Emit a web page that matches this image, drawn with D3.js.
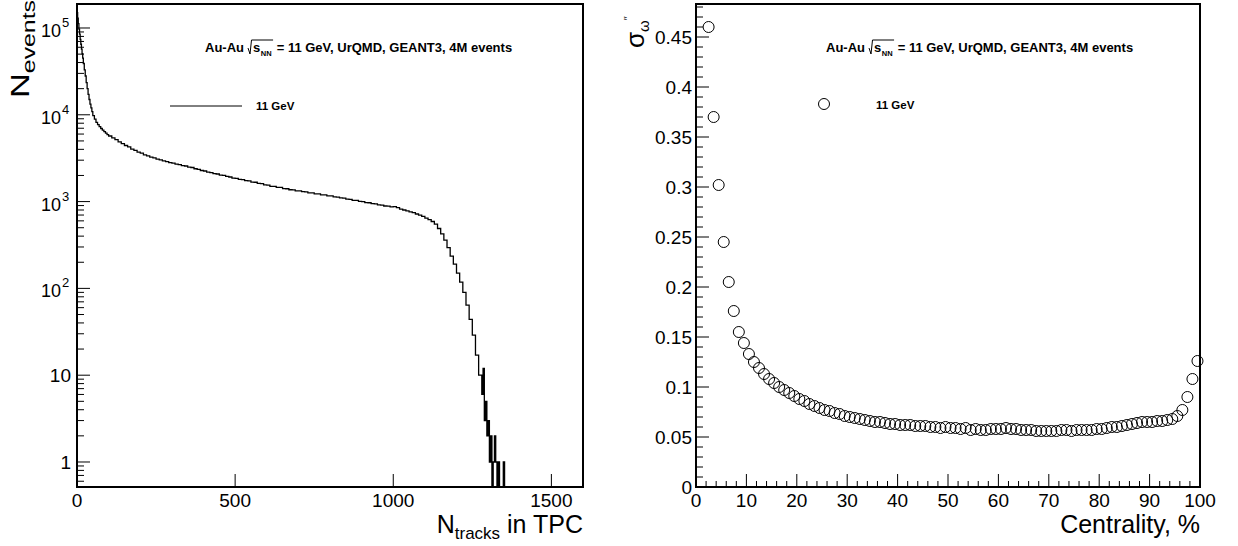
<!DOCTYPE html>
<html>
<head>
<meta charset="utf-8">
<script src="https://cdn.jsdelivr.net/npm/d3@7"></script>
<style>
  body { margin: 0; background: #fff; }
  text { font-family: "Liberation Sans", Arial, Helvetica, sans-serif; fill: #000; }
</style>
</head>
<body>
<svg id="chart" width="1238" height="546"></svg>
<script>
// ---- left panel: N_tracks histogram (bin edges + per-track counts) ----
const binEdges = [
  0, 2, 4, 6, 8, 10, 12, 14, 16, 18, 20, 23, 26, 29, 32, 35, 38, 41, 44, 47,
  50, 55, 60, 65, 70, 75, 80, 85, 90, 95,
  100, 110, 120, 130, 140, 150, 160, 170, 180, 190, 200, 210, 220, 230, 240, 250, 260, 270, 280, 290,
  300, 310, 320, 330, 340, 350, 360, 370, 380, 390, 400, 410, 420, 430, 440, 450, 460, 470, 480, 490,
  500, 510, 520, 530, 540, 550, 560, 570, 580, 590, 600, 610, 620, 630, 640, 650, 660, 670, 680, 690,
  700, 710, 720, 730, 740, 750, 760, 770, 780, 790, 800, 810, 820, 830, 840, 850, 860, 870, 880, 890,
  900, 910, 920, 930, 940, 950, 960, 970, 980, 990,
  1000, 1010, 1020, 1030, 1040, 1050, 1060, 1070, 1080, 1090, 1100, 1110, 1120, 1130,
  1140, 1150, 1160, 1170, 1180, 1190, 1200, 1210, 1220, 1230, 1240, 1250, 1260, 1270,
  1280, 1284, 1288, 1292, 1296, 1300, 1304, 1308, 1312, 1316, 1320, 1324, 1328, 1332,
  1336, 1340, 1344, 1348, 1352, 1356, 1360, 1600
];
const binCounts = [
  150000, 130000, 112000, 97000, 85000, 74000, 65000, 57000, 50500, 45000, 39000, 33000, 28000, 23500, 20000, 17200, 15000, 13300, 12000, 10900,
  9800, 8900, 8200, 7700, 7300, 6950, 6650, 6400, 6150, 5900,
  5700, 5420, 5180, 4880, 4660, 4430, 4260, 4030, 3900, 3710, 3610, 3460, 3370, 3250, 3190, 3090, 3030, 2950, 2890, 2810,
  2770, 2700, 2660, 2600, 2570, 2500, 2470, 2390, 2350, 2280, 2250, 2180, 2160, 2100, 2080, 2020, 2000, 1950, 1920, 1860,
  1850, 1800, 1790, 1740, 1730, 1680, 1670, 1620, 1610, 1560, 1550, 1500, 1495, 1460, 1455, 1410, 1405, 1370, 1365, 1330,
  1330, 1300, 1295, 1260, 1258, 1230, 1225, 1195, 1195, 1165, 1165, 1135, 1125, 1105, 1095, 1065, 1063, 1035, 1035, 1005,
  1000, 975, 970, 945, 940, 915, 910, 890, 888, 870,
  875, 850, 820, 800, 780, 760, 745, 720, 700, 675, 645, 620, 590, 550,
  490, 425, 360, 295, 235, 190, 150, 118, 90, 64, 44, 29, 17, 10,
  6, 12, 3, 5, 2, 3, 1, 2, 0, 1, 2, 1, 0,
  1, 0, 0, 0, 1, 0, 0, 0
];
const xTicksLeft = [0, 500, 1000, 1500];

// ---- right panel: scaled variance vs centrality ----
const centrality = [
  2.5, 3.5, 4.5, 5.5, 6.5, 7.5, 8.5, 9.5, 10.5, 11.5, 12.5, 13.5, 14.5, 15.5, 16.5, 17.5, 18.5, 19.5,
  20.5, 21.5, 22.5, 23.5, 24.5, 25.5, 26.5, 27.5, 28.5, 29.5, 30.5, 31.5, 32.5, 33.5, 34.5, 35.5, 36.5,
  37.5, 38.5, 39.5, 40.5, 41.5, 42.5, 43.5, 44.5, 45.5, 46.5, 47.5, 48.5, 49.5, 50.5, 51.5, 52.5, 53.5,
  54.5, 55.5, 56.5, 57.5, 58.5, 59.5, 60.5, 61.5, 62.5, 63.5, 64.5, 65.5, 66.5, 67.5, 68.5, 69.5, 70.5,
  71.5, 72.5, 73.5, 74.5, 75.5, 76.5, 77.5, 78.5, 79.5, 80.5, 81.5, 82.5, 83.5, 84.5, 85.5, 86.5, 87.5,
  88.5, 89.5, 90.5, 91.5, 92.5, 93.5, 94.5, 95.5, 96.5, 97.5, 98.5, 99.5
];
const sigmaValues = [
  0.460, 0.370, 0.302, 0.245, 0.205, 0.176, 0.155, 0.144, 0.133, 0.125, 0.119, 0.113, 0.108, 0.104, 0.100, 0.097, 0.094, 0.091,
  0.088, 0.086, 0.083, 0.081, 0.079, 0.077, 0.076, 0.074, 0.073, 0.071, 0.070, 0.069, 0.068, 0.067, 0.066, 0.065, 0.065,
  0.064, 0.063, 0.063, 0.062, 0.062, 0.062, 0.061, 0.061, 0.061, 0.060, 0.060, 0.059, 0.060, 0.059, 0.059, 0.058, 0.059,
  0.057, 0.058, 0.057, 0.057, 0.058, 0.058, 0.058, 0.059, 0.058, 0.058, 0.057, 0.057, 0.057, 0.056, 0.056, 0.056, 0.056,
  0.056, 0.057, 0.057, 0.056, 0.057, 0.057, 0.057, 0.057, 0.058, 0.058, 0.059, 0.060, 0.060, 0.061, 0.062, 0.063, 0.064,
  0.065, 0.065, 0.065, 0.066, 0.066, 0.067, 0.068, 0.071, 0.077, 0.090, 0.108, 0.126
];
const xTicksRight = [0, 10, 20, 30, 40, 50, 60, 70, 80, 90, 100];
const yTicksRight = [0, 0.05, 0.1, 0.15, 0.2, 0.25, 0.3, 0.35, 0.4, 0.45];

const headerText = " = 11 GeV, UrQMD, GEANT3, 4M events";
const legendLabel = "11 GeV";

const svg = d3.select("#chart");
svg.append("rect").attr("width", 1238).attr("height", 546).attr("fill", "#fff");

const frameBottom = 487, frameTop = 4;
const tickFont = 19;

// scales
const xL = d3.scaleLinear().domain([0, 1600]).range([77, 583]);
const yL = d3.scaleLog().domain([0.515, 1.89e5]).range([frameBottom, frameTop]).clamp(true);
const xR = d3.scaleLinear().domain([0, 100]).range([696, 1200]);
const yR = d3.scaleLinear().domain([0, 0.483]).range([frameBottom, frameTop]);

// ---------- header with sqrt(s_NN) ----------
function header(g, x, yb) {
  const fs = 13;
  const t1 = g.append("text").attr("x", x).attr("y", yb)
    .style("font-size", fs + "px").style("font-weight", "bold").text("Au-Au");
  const cx = x + t1.node().getComputedTextLength() + 6;
  const s = g.append("text").attr("x", cx + 3).attr("y", yb)
    .style("font-size", fs + "px").style("font-weight", "bold").text("s");
  const sw = s.node().getComputedTextLength();
  const nn = g.append("text").attr("x", cx + 3 + sw + 0.5).attr("y", yb + 3.5)
    .style("font-size", "7.5px").style("font-weight", "bold").text("NN");
  const nw = nn.node().getComputedTextLength();
  const barEnd = cx + 3 + sw + nw + 2;
  g.append("path")
    .attr("d", `M${cx - 2},${yb - 4} L${cx},${yb + 2} L${cx + 1.5},${yb - 12} L${barEnd},${yb - 12}`)
    .attr("fill", "none").attr("stroke", "#000").attr("stroke-width", 1);
  g.append("text").attr("x", barEnd).attr("y", yb)
    .style("font-size", fs + "px").style("font-weight", "bold").style("white-space", "pre")
    .attr("xml:space", "preserve").text(headerText);
}

// ================= LEFT PANEL =================
const gl = svg.append("g");

// histogram as a step line
const histPts = binCounts.map((c, i) => [binEdges[i], c]);
histPts.push([binEdges[binEdges.length - 1], binCounts[binCounts.length - 1]]);
const histLine = d3.line()
  .x(d => xL(d[0]))
  .y(d => d[1] > 0 ? yL(d[1]) : frameBottom)
  .curve(d3.curveStepAfter);
gl.append("path").datum(histPts)
  .attr("fill", "none").attr("stroke", "#000").attr("stroke-width", 1.3)
  .attr("d", histLine);

// y ticks (log)
yL.ticks().forEach(t => {
  const e = Math.log10(t);
  const major = Math.abs(e - Math.round(e)) < 1e-9;
  gl.append("line").attr("x1", 77).attr("x2", 77 + (major ? 13 : 7))
    .attr("y1", yL(t)).attr("y2", yL(t)).attr("stroke", "#000").attr("stroke-width", 1);
  if (major) {
    const p = Math.round(e);
    const y = yL(t);
    if (p <= 1) {
      gl.append("text").attr("x", 71).attr("y", y + 7).attr("text-anchor", "end")
        .style("font-size", tickFont + "px").text(p === 0 ? "1" : "10");
    } else {
      gl.append("text").attr("x", 61).attr("y", y + 9).attr("text-anchor", "end")
        .style("font-size", "18px").text("10");
      gl.append("text").attr("x", 62).attr("y", y - 1)
        .style("font-size", "13px").text(p);
    }
  }
});

// x ticks
xTicksLeft.forEach(t => {
  gl.append("line").attr("x1", xL(t)).attr("x2", xL(t))
    .attr("y1", frameBottom).attr("y2", frameBottom - 13).attr("stroke", "#000");
  gl.append("text").attr("x", xL(t)).attr("y", frameBottom + 20).attr("text-anchor", "middle")
    .style("font-size", tickFont + "px").text(t);
});

// frame
gl.append("rect").attr("x", 77).attr("y", frameTop).attr("width", 583 - 77).attr("height", frameBottom - frameTop)
  .attr("fill", "none").attr("stroke", "#000").attr("stroke-width", 2);

// axis titles
const xtL = gl.append("text").attr("x", 583).attr("y", 533).attr("text-anchor", "end")
  .style("font-size", "25px");
xtL.append("tspan").text("N");
xtL.append("tspan").attr("dy", 6).style("font-size", "17px").text("tracks");
xtL.append("tspan").attr("dy", -6).text(" in TPC");

// the original title is drawn stretched along the axis
const ytL = gl.append("text").attr("transform", "translate(29,0) scale(1,1.38) rotate(-90)")
  .attr("text-anchor", "end").style("font-size", "25px");
ytL.append("tspan").text("N");
ytL.append("tspan").attr("dy", 6).style("font-size", "18px").text("events");

// header + legend
header(gl, 205, 52);
gl.append("line").attr("x1", 170).attr("x2", 242).attr("y1", 106).attr("y2", 106)
  .attr("stroke", "#000").attr("stroke-width", 1);
gl.append("text").attr("x", 256).attr("y", 110).style("font-size", "11.5px")
  .style("font-weight", "bold").text(legendLabel);

// ================= RIGHT PANEL =================
const gr = svg.append("g");

gr.selectAll("circle.pt").data(centrality).join("circle")
  .attr("class", "pt")
  .attr("cx", d => xR(d))
  .attr("cy", (d, i) => yR(sigmaValues[i]))
  .attr("r", 5.5)
  .attr("fill", "none").attr("stroke", "#000").attr("stroke-width", 1);

// y ticks
d3.range(0, 0.4801, 0.01).forEach(v => {
  const major = Math.abs(v * 20 - Math.round(v * 20)) < 1e-6;
  gr.append("line").attr("x1", 696).attr("x2", 696 + (major ? 13 : 7))
    .attr("y1", yR(v)).attr("y2", yR(v)).attr("stroke", "#000");
});
yTicksRight.forEach(v => {
  gr.append("text").attr("x", 692).attr("y", yR(v) + 7).attr("text-anchor", "end")
    .style("font-size", tickFont + "px").text(v === 0 ? "0" : d3.format("")(+v.toFixed(2)));
});

// x ticks
d3.range(0, 100.01, 2).forEach(v => {
  const major = v % 10 === 0;
  gr.append("line").attr("x1", xR(v)).attr("x2", xR(v))
    .attr("y1", frameBottom).attr("y2", frameBottom - (major ? 13 : 6)).attr("stroke", "#000");
});
xTicksRight.forEach(v => {
  gr.append("text").attr("x", xR(v)).attr("y", frameBottom + 20).attr("text-anchor", "middle")
    .style("font-size", tickFont + "px").text(v);
});

gr.append("rect").attr("x", 696).attr("y", frameTop).attr("width", 1200 - 696).attr("height", frameBottom - frameTop)
  .attr("fill", "none").attr("stroke", "#000").attr("stroke-width", 2);

gr.append("text").attr("x", 1200).attr("y", 533).attr("text-anchor", "end")
  .style("font-size", "25px").text("Centrality, %");

// y title (partly hidden behind tick labels, as in the original)
const ytR = gr.append("text").attr("transform", "translate(644,48) rotate(-90)")
  .style("font-size", "26px");
ytR.append("tspan").text("σ");
ytR.append("tspan").attr("dy", 5).style("font-size", "15px").text("ω");
ytR.append("tspan").attr("dy", -17).style("font-size", "11px").text("″");

header(gr, 826, 52);
gr.append("circle").attr("cx", 824).attr("cy", 104).attr("r", 5.5)
  .attr("fill", "none").attr("stroke", "#000");
gr.append("text").attr("x", 876).attr("y", 109).style("font-size", "11.5px")
  .style("font-weight", "bold").text(legendLabel);
</script>
</body>
</html>
